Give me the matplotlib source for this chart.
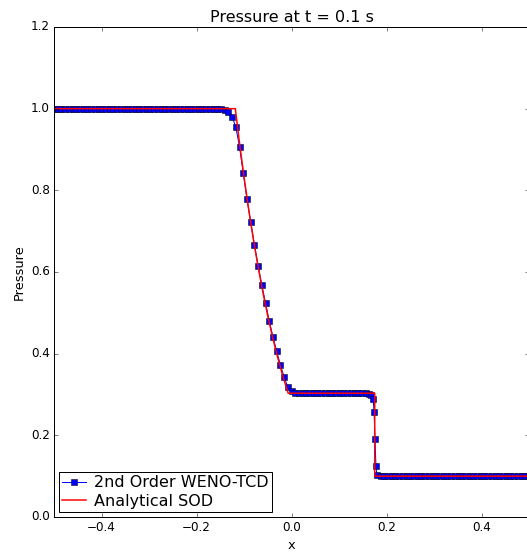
import matplotlib
matplotlib.use("Agg")
import matplotlib.pyplot as plt

# numerical solution (2nd order WENO-TCD), mesh nodes and pressure
x_num = [-0.5, -0.4922, -0.4844, -0.4766, -0.4688, -0.4609, -0.4531, -0.4453,
         -0.4375, -0.4297, -0.4219, -0.4141, -0.4063, -0.3984, -0.3906, -0.3828,
         -0.375, -0.3672, -0.3594, -0.3516, -0.3438, -0.3359, -0.3281, -0.3203,
         -0.3125, -0.3047, -0.2969, -0.2891, -0.2813, -0.2734, -0.2656, -0.2578,
         -0.25, -0.2422, -0.2344, -0.2266, -0.2188, -0.2109, -0.2031, -0.1953,
         -0.1875, -0.1797, -0.1719, -0.1641, -0.1563, -0.1484, -0.1406, -0.1328,
         -0.125, -0.1172, -0.1094, -0.1016, -0.0938, -0.0859, -0.0781, -0.0703,
         -0.0625, -0.0547, -0.0469, -0.0391, -0.0313, -0.0234, -0.0156, -0.0078,
         0.0, 0.0078, 0.0156, 0.0234, 0.0313, 0.0391, 0.0469, 0.0547,
         0.0625, 0.0703, 0.0781, 0.0859, 0.0938, 0.1016, 0.1094, 0.1172,
         0.125, 0.1328, 0.1406, 0.1484, 0.1563, 0.1641, 0.1680, 0.1719,
         0.1738, 0.1758, 0.1777, 0.1797, 0.1875, 0.1953, 0.2031, 0.2109,
         0.2188, 0.2266, 0.2344, 0.2422, 0.25, 0.2578, 0.2656, 0.2734,
         0.2813, 0.2891, 0.2969, 0.3047, 0.3125, 0.3203, 0.3281, 0.3359,
         0.3438, 0.3516, 0.3594, 0.3672, 0.375, 0.3828, 0.3906, 0.3984,
         0.4063, 0.4141, 0.4219, 0.4297, 0.4375, 0.4453, 0.4531, 0.4609,
         0.4688, 0.4766, 0.4844, 0.4922, 0.5]
p_num = [1.0, 1.0, 1.0, 1.0, 1.0, 1.0, 1.0, 1.0,
         1.0, 1.0, 1.0, 1.0, 1.0, 1.0, 1.0, 1.0,
         1.0, 1.0, 1.0, 1.0, 1.0, 1.0, 1.0, 1.0,
         1.0, 1.0, 1.0, 1.0, 1.0, 1.0, 1.0, 1.0,
         1.0, 1.0, 1.0, 1.0, 1.0, 1.0, 1.0, 1.0,
         1.0, 1.0, 1.0, 0.9995, 0.999, 0.9985, 0.997, 0.991,
         0.980, 0.955, 0.906, 0.842, 0.779, 0.722, 0.666, 0.615,
         0.568, 0.524, 0.480, 0.441, 0.407, 0.372, 0.343, 0.318,
         0.309, 0.304, 0.3035, 0.303, 0.303, 0.303, 0.303, 0.303,
         0.303, 0.303, 0.303, 0.303, 0.303, 0.303, 0.303, 0.303,
         0.303, 0.303, 0.303, 0.303, 0.303, 0.302, 0.299, 0.288,
         0.257, 0.190, 0.126, 0.103, 0.1005, 0.1, 0.1, 0.1,
         0.1, 0.1, 0.1, 0.1, 0.1, 0.1, 0.1, 0.1,
         0.1, 0.1, 0.1, 0.1, 0.1, 0.1, 0.1, 0.1,
         0.1, 0.1, 0.1, 0.1, 0.1, 0.1, 0.1, 0.1,
         0.1, 0.1, 0.1, 0.1, 0.1, 0.1, 0.1, 0.1,
         0.1, 0.1, 0.1, 0.1, 0.1]

# analytical Sod solution
x_ana = [-0.5, -0.1183, -0.11, -0.1, -0.09, -0.08, -0.07, -0.06, -0.05,
         -0.04, -0.03, -0.02, -0.01, -0.007, 0.1752, 0.1752, 0.5]
p_ana = [1.0, 1.0, 0.9207, 0.8327, 0.7520, 0.6781, 0.6105, 0.5488, 0.4924,
         0.4412, 0.3945, 0.3522, 0.3138, 0.3031, 0.3031, 0.1, 0.1]

plt.style.use("classic")
fig = plt.figure(figsize=(527/72, 554/72), dpi=72)
ax = fig.add_axes([0.1025, 0.0668, 0.9013, 0.8845])

ax.plot(x_num, p_num, "b-s", markersize=6, markerfacecolor="b",
        markeredgecolor="k", markeredgewidth=0.5, label="2nd Order WENO-TCD")
ax.plot(x_ana, p_ana, "r-", linewidth=1.5, label="Analytical SOD")

ax.set_xlim(-0.5, 0.5)
ax.set_ylim(0.0, 1.2)
ax.set_xticks([-0.4, -0.2, 0.0, 0.2, 0.4])
ax.set_yticks([0.0, 0.2, 0.4, 0.6, 0.8, 1.0, 1.2])
ax.tick_params(labelsize=12)
ax.set_xlabel("x", fontsize=13)
ax.set_ylabel("Pressure", fontsize=13)
ax.set_title("Pressure at t = 0.1 s", fontsize=16)
ax.legend(loc="lower left", numpoints=1, fontsize=16, handlelength=1.5,
          labelspacing=0.2, borderpad=0.2, borderaxespad=0.33,
          handletextpad=0.5)

fig.savefig("out.png", dpi=72)
